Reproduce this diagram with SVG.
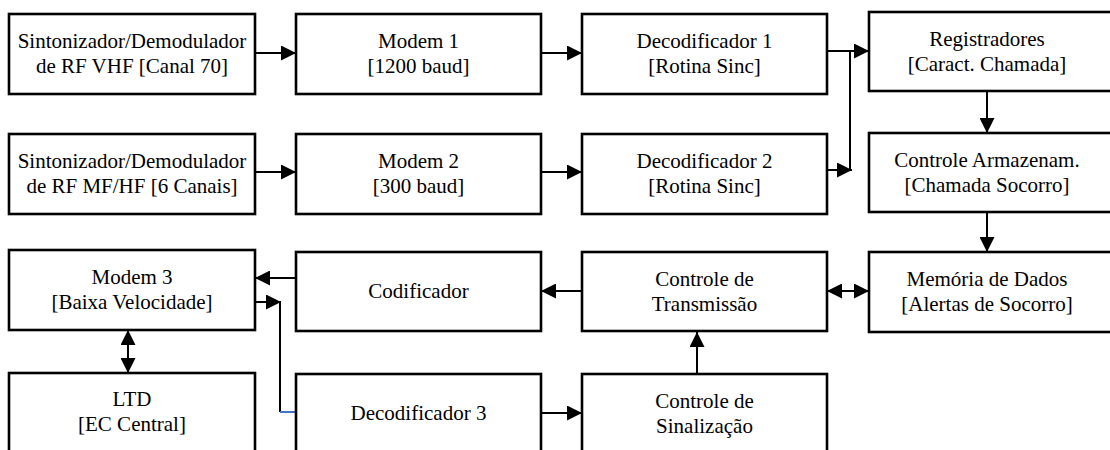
<svg xmlns="http://www.w3.org/2000/svg" width="1110" height="450" viewBox="0 0 1110 450">
<style>
.box{fill:#fff;stroke:#000;stroke-width:2.6}
.t{font-size:21px;fill:#000;text-anchor:middle}
.c{fill:none;stroke:#000;stroke-width:2}
.a{marker-end:url(#ah)}
.d{marker-start:url(#ah);marker-end:url(#ah)}
</style>
<defs>
<marker id="ah" markerUnits="userSpaceOnUse" markerWidth="15" markerHeight="15" refX="15" refY="7.5" orient="auto-start-reverse">
<path d="M0,0 L15,7.5 L0,15 z" fill="#000"/>
</marker>
</defs>
<rect width="1110" height="450" fill="#fff"/>
<g id="connectors">
<line class="c a" x1="255" y1="53" x2="296" y2="53"/>
<line class="c a" x1="541" y1="53" x2="582" y2="53"/>
<line class="c a" x1="827" y1="51" x2="869" y2="51"/>
<line class="c a" x1="255" y1="172" x2="296" y2="172"/>
<line class="c a" x1="541" y1="172" x2="582" y2="172"/>
<polyline class="c" points="850,170 850,51"/>
<line class="c a" x1="827" y1="170" x2="852" y2="170"/>
<line class="c a" x1="987" y1="91" x2="987" y2="133"/>
<line class="c a" x1="987" y1="212" x2="987" y2="252"/>
<line class="c d" x1="827" y1="291" x2="869" y2="291"/>
<line class="c a" x1="582" y1="291" x2="541" y2="291"/>
<line class="c a" x1="296" y1="278" x2="255" y2="278"/>
<line class="c a" x1="255" y1="302" x2="281" y2="302"/>
<polyline class="c" points="280,302 280,412"/>
<line x1="280" y1="412" x2="296" y2="412" stroke="#4472C4" stroke-width="2"/>
<line class="c d" x1="128" y1="330" x2="128" y2="373"/>
<line class="c a" x1="541" y1="413" x2="582" y2="413"/>
<line class="c a" x1="697" y1="374" x2="697" y2="332"/>
</g>
<g font-family="Liberation Serif, DejaVu Serif, serif">
<g id="sint-vhf"><rect class="box" x="9" y="14" width="246" height="80"/><text class="t" x="132" y="48">Sintonizador/Demodulador</text><text class="t" x="132" y="73">de RF VHF [Canal 70]</text></g>
<g id="modem1"><rect class="box" x="296" y="14" width="245" height="80"/><text class="t" x="418.5" y="48">Modem 1</text><text class="t" x="418.5" y="73">[1200 baud]</text></g>
<g id="decod1"><rect class="box" x="582" y="14" width="245" height="80"/><text class="t" x="704.5" y="48">Decodificador 1</text><text class="t" x="704.5" y="73">[Rotina Sinc]</text></g>
<g id="registradores"><rect class="box" x="869" y="12" width="250" height="79"/><text class="t" x="987" y="46">Registradores</text><text class="t" x="987" y="71">[Caract. Chamada]</text></g>
<g id="sint-mfhf"><rect class="box" x="9" y="134" width="246" height="80"/><text class="t" x="132" y="168">Sintonizador/Demodulador</text><text class="t" x="132" y="193">de RF MF/HF [6 Canais]</text></g>
<g id="modem2"><rect class="box" x="296" y="134" width="245" height="80"/><text class="t" x="418.5" y="168">Modem 2</text><text class="t" x="418.5" y="193">[300 baud]</text></g>
<g id="decod2"><rect class="box" x="582" y="134" width="245" height="80"/><text class="t" x="704.5" y="168">Decodificador 2</text><text class="t" x="704.5" y="193">[Rotina Sinc]</text></g>
<g id="controle-armaz"><rect class="box" x="869" y="133" width="250" height="79"/><text class="t" x="987" y="167">Controle Armazenam.</text><text class="t" x="987" y="192">[Chamada Socorro]</text></g>
<g id="modem3"><rect class="box" x="9" y="250" width="246" height="80"/><text class="t" x="132" y="284">Modem 3</text><text class="t" x="132" y="309">[Baixa Velocidade]</text></g>
<g id="codificador"><rect class="box" x="296" y="252" width="245" height="79"/><text class="t" x="418.5" y="298">Codificador</text></g>
<g id="controle-trans"><rect class="box" x="582" y="252" width="245" height="79"/><text class="t" x="704.5" y="286">Controle de</text><text class="t" x="704.5" y="311">Transmissão</text></g>
<g id="memoria"><rect class="box" x="869" y="252" width="250" height="80"/><text class="t" x="987" y="286">Memória de Dados</text><text class="t" x="987" y="311">[Alertas de Socorro]</text></g>
<g id="ltd"><rect class="box" x="9" y="373" width="246" height="90"/><text class="t" x="132" y="406">LTD</text><text class="t" x="132" y="431">[EC Central]</text></g>
<g id="decod3"><rect class="box" x="296" y="374" width="245" height="90"/><text class="t" x="418.5" y="420">Decodificador 3</text></g>
<g id="controle-sinal"><rect class="box" x="582" y="374" width="245" height="90"/><text class="t" x="704.5" y="408">Controle de</text><text class="t" x="704.5" y="433">Sinalização</text></g>
</g>
</svg>
